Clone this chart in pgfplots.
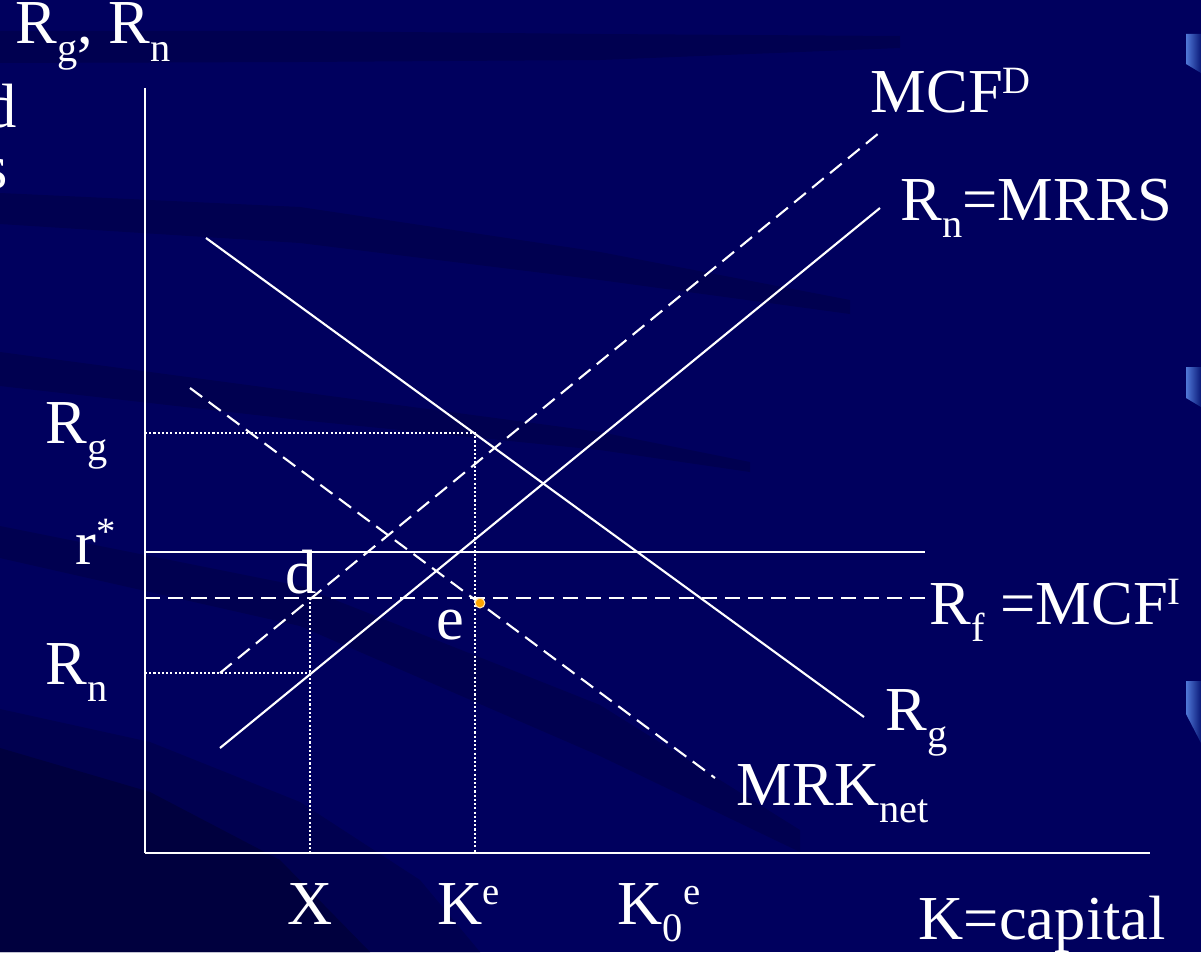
\documentclass[border=0pt]{standalone}
\usepackage{pgfplots}
\pgfplotsset{compat=1.18}
\usepackage{fontspec}
\setmainfont{Liberation Serif}
\definecolor{bg}{RGB}{0,0,94}
\definecolor{band}{RGB}{0,0,80}
\definecolor{bandd}{RGB}{0,0,62}
\definecolor{sqlight}{RGB}{80,120,215}
\definecolor{sqdark}{RGB}{10,25,120}
\definecolor{dotor}{RGB}{255,165,0}
\newcommand\sub[1]{\raisebox{-5pt}{\fontsize{11.5}{11.5}\selectfont #1}}
\newcommand\sups[1]{\raisebox{5.5pt}{\fontsize{11}{11}\selectfont #1}}
\tikzset{lab/.style={text=white, inner sep=0pt, anchor=base west, font=\fontsize{17.8}{20}\selectfont}}
\begin{document}
\begin{tikzpicture}
\useasboundingbox (0,0) rectangle (12.01cm,9.52cm);
\begin{axis}[
  at={(0,0)}, anchor=south west,
  scale only axis, width=12.01cm, height=9.52cm,
  xmin=0, xmax=1201, ymin=0, ymax=952, y dir=reverse,
  axis line style={draw=none}, xtick=\empty, ytick=\empty,
  axis background/.style={fill=bg},
  clip=false,
]
% background decoration
\addplot[fill=band, draw=none] coordinates {(0,31) (300,31) (600,34) (900,36) (900,48) (600,60) (300,62) (0,63)} -- cycle;
\addplot[fill=band, draw=none] coordinates {(0,193) (300,207) (600,252) (850,300) (850,314) (600,280) (300,243) (0,224)} -- cycle;
\addplot[fill=band, draw=none] coordinates {(0,352) (300,392) (600,432) (750,462) (750,472) (600,450) (300,420) (0,386)} -- cycle;
\addplot[fill=band, draw=none] coordinates {(0,526) (300,586) (600,705) (800,830) (800,852) (600,756) (300,626) (0,558)} -- cycle;
\addplot[fill=band, draw=none] coordinates {(0,709) (150,742) (300,802) (420,880) (480,952) (0,952)} -- cycle;
\addplot[fill=bandd, draw=none] coordinates {(0,748) (150,792) (280,860) (370,952) (0,952)} -- cycle;
\addplot[left color=sqlight, right color=sqdark, draw=none] coordinates {(1186,34) (1201,34) (1201,73) (1186,64)} -- cycle;
\addplot[left color=sqlight, right color=sqdark, draw=none] coordinates {(1186,367) (1201,367) (1201,407) (1186,398)} -- cycle;
\addplot[left color=sqlight, right color=sqdark, draw=none] coordinates {(1186,681) (1201,681) (1201,743) (1186,714)} -- cycle;
% axes
\addplot[white, line width=0.8pt] coordinates {(145,88) (145,853)};
\addplot[white, line width=0.8pt] coordinates {(145,853) (1150,853)};
% horizontal lines
\addplot[white, line width=0.75pt] coordinates {(145,552) (925,552)};
\addplot[white, line width=0.75pt, dash pattern=on 4.3pt off 2.3pt] coordinates {(145,598) (925,598)};
% dotted guides
\addplot[white, line width=0.6pt, dash pattern=on 0.6pt off 0.6pt] coordinates {(145,433) (475,433) (475,853)};
\addplot[white, line width=0.6pt, dash pattern=on 0.6pt off 0.6pt] coordinates {(145,673) (310,673)};
\addplot[white, line width=0.6pt, dash pattern=on 0.6pt off 0.6pt] coordinates {(310,598) (310,853)};
% curves
\addplot[white, line width=0.6pt] coordinates {(206,238) (864,717)};
\addplot[white, line width=0.6pt] coordinates {(220,748) (880,208)};
\addplot[white, line width=0.6pt, dash pattern=on 4.3pt off 2.3pt] coordinates {(220,673) (879,133)};
\addplot[white, line width=0.6pt, dash pattern=on 4.3pt off 2.3pt] coordinates {(190,388) (715,778)};
% point e
\addplot[only marks, mark=*, mark size=1.4pt, mark options={fill=dotor, draw=white!70!dotor, line width=0.3pt}] coordinates {(480,603)};
% labels
\node[lab] at (axis cs:15,44) {R\sub{g}, R\sub{n}};
\node[lab, anchor=base east] at (axis cs:17,128) {d};
\node[lab, anchor=base east] at (axis cs:9,188) {s};
\node[lab] at (axis cs:870,113) {MCF\sups{D}};
\node[lab] at (axis cs:900,220) {R\sub{n}=MRRS};
\node[lab] at (axis cs:45,443) {R\sub{g}};
\node[lab] at (axis cs:75,564) {r\sups{*}};
\node[lab] at (axis cs:285,593) {d};
\node[lab] at (axis cs:436,639) {e};
\node[lab] at (axis cs:929,624) {R\sub{f} =MCF\sups{I}};
\node[lab] at (axis cs:45,684) {R\sub{n}};
\node[lab] at (axis cs:885,730) {R\sub{g}};
\node[lab] at (axis cs:736,805) {MRK\sub{net}};
\node[lab] at (axis cs:287,924) {X};
\node[lab] at (axis cs:437,924) {K\sups{e}};
\node[lab] at (axis cs:617,924) {K\sub{0}\sups{e}};
\node[lab] at (axis cs:918,939) {K=capital};
\end{axis}
\end{tikzpicture}
\end{document}
